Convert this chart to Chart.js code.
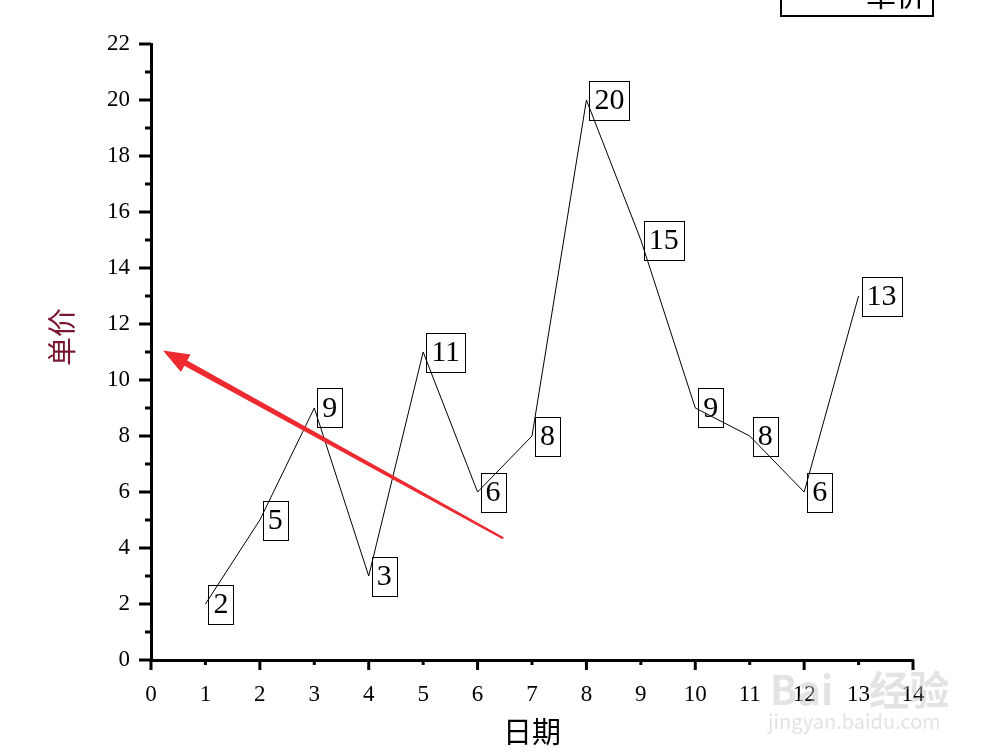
<!DOCTYPE html>
<html>
<head>
<meta charset="utf-8">
<script src="https://cdn.jsdelivr.net/npm/chart.js@4"></script>
<style>
  html, body { margin: 0; padding: 0; background: #fff; }
  canvas { display: block; }
</style>
</head>
<body>
<canvas id="priceChart" width="1000" height="756"></canvas>
<script>
// data
const days = [1, 2, 3, 4, 5, 6, 7, 8, 9, 10, 11, 12, 13];
const prices = [2, 5, 9, 3, 11, 6, 8, 20, 15, 9, 8, 6, 13];
const xTickValues = [0, 1, 2, 3, 4, 5, 6, 7, 8, 9, 10, 11, 12, 13, 14];
const yTickValues = [0, 2, 4, 6, 8, 10, 12, 14, 16, 18, 20, 22];
const seriesName = '单价';
const xTitle = '日期';
const yTitle = '单价';
// red arrow annotation, in data units (tail -> head)
const arrowTail = [6.47, 4.35];
const arrowHead = [0.22, 11.05];

const serif = '"Liberation Serif", "DejaVu Serif", serif';
const cjk = '"Noto Sans CJK SC", "Noto Sans", sans-serif';

// Origin style ticks: long on even values, short on odd ones
const tickMarks = {
    id: 'tickMarks',
    afterDraw(chart) {
        const { ctx, scales: { x, y }, chartArea } = chart;
        ctx.save();
        ctx.strokeStyle = '#000';
        ctx.lineWidth = 3;
        for (let v = xTickValues[0]; v <= xTickValues[xTickValues.length - 1]; v++) {
            const px = x.getPixelForValue(v);
            const len = v % 2 === 0 ? 10 : 5;
            ctx.beginPath();
            ctx.moveTo(px, chartArea.bottom);
            ctx.lineTo(px, chartArea.bottom + len);
            ctx.stroke();
        }
        for (let v = yTickValues[0]; v <= yTickValues[yTickValues.length - 1]; v++) {
            const py = y.getPixelForValue(v);
            const len = v % 2 === 0 ? 12 : 6;
            ctx.beginPath();
            ctx.moveTo(chartArea.left, py);
            ctx.lineTo(chartArea.left - len, py);
            ctx.stroke();
        }
        ctx.restore();
    }
};

// boxed value labels next to every point (boxes are see-through)
const boxLabels = {
    id: 'boxLabels',
    afterDatasetsDraw(chart) {
        const { ctx } = chart;
        const meta = chart.getDatasetMeta(0);
        ctx.save();
        ctx.font = '30px ' + serif;
        ctx.textBaseline = 'middle';
        ctx.textAlign = 'left';
        meta.data.forEach((pt, i) => {
            const txt = String(prices[i]);
            const w = ctx.measureText(txt).width + 10;
            const h = 39;
            const bx = pt.x + 3;
            const by = pt.y - h / 2;
            ctx.strokeStyle = '#000';
            ctx.lineWidth = 1;
            ctx.strokeRect(Math.round(bx) + 0.5, Math.round(by) + 0.5, Math.round(w), h);
            ctx.fillStyle = '#000';
            ctx.fillText(txt, bx + 5, pt.y + 1);
        });
        ctx.restore();
    }
};

// axis titles, arrow, cut-off legend, watermark
const extras = {
    id: 'extras',
    afterDraw(chart) {
        const { ctx, scales: { x, y }, chartArea } = chart;
        ctx.save();

        // x title
        ctx.fillStyle = '#000';
        ctx.font = '29px ' + cjk;
        ctx.textAlign = 'center';
        ctx.textBaseline = 'middle';
        ctx.fillText(xTitle, (chartArea.left + chartArea.right) / 2, 732);

        // y title
        ctx.save();
        ctx.translate(62, 337);
        ctx.rotate(-Math.PI / 2);
        ctx.fillStyle = '#7a1630';
        ctx.fillText(yTitle, 0, 0);
        ctx.restore();

        // arrow, a bit thicker towards the head
        const tx = x.getPixelForValue(arrowTail[0]), ty = y.getPixelForValue(arrowTail[1]);
        const hx = x.getPixelForValue(arrowHead[0]), hy = y.getPixelForValue(arrowHead[1]);
        const ang = Math.atan2(hy - ty, hx - tx);
        const headLen = 26, headW = 10;
        const bx = hx - headLen * Math.cos(ang), by = hy - headLen * Math.sin(ang);
        const sn = Math.sin(ang), cs = Math.cos(ang);
        ctx.fillStyle = '#ec2a2f';
        ctx.beginPath();
        ctx.moveTo(tx + 1.2 * sn, ty - 1.2 * cs);
        ctx.lineTo(bx + 3 * sn, by - 3 * cs);
        ctx.lineTo(bx + headW * sn, by - headW * cs);
        ctx.lineTo(hx, hy);
        ctx.lineTo(bx - headW * sn, by + headW * cs);
        ctx.lineTo(bx - 3 * sn, by + 3 * cs);
        ctx.lineTo(tx - 1.2 * sn, ty + 1.2 * cs);
        ctx.closePath();
        ctx.fill();

        // legend box (cut off at the top)
        ctx.strokeStyle = '#000';
        ctx.lineWidth = 2;
        ctx.strokeRect(781, -10, 152, 26);
        ctx.fillStyle = '#000';
        ctx.font = '30px ' + cjk;
        ctx.textAlign = 'left';
        ctx.fillText(seriesName, 866, -5);

        // watermark
        ctx.fillStyle = 'rgba(200,200,200,0.5)';
        ctx.font = 'bold 40px ' + cjk;
        ctx.fillText('Bai    经验', 770, 690);
        ctx.font = '20px ' + cjk;
        ctx.fillText('jingyan.baidu.com', 768, 721);

        ctx.restore();
    }
};

new Chart(document.getElementById('priceChart'), {
    type: 'line',
    data: {
        datasets: [{
            label: seriesName,
            data: days.map((d, i) => ({ x: d, y: prices[i] })),
            borderColor: '#000',
            borderWidth: 1,
            pointRadius: 0,
            tension: 0,
            fill: false
        }]
    },
    options: {
        responsive: false,
        devicePixelRatio: 1,
        animation: false,
        layout: { padding: { top: 44, right: 87, left: 0, bottom: 0 } },
        plugins: {
            legend: { display: false },
            tooltip: { enabled: false }
        },
        scales: {
            x: {
                type: 'linear',
                min: 0,
                max: 14,
                afterBuildTicks: s => { s.ticks = xTickValues.map(v => ({ value: v })); },
                afterFit: s => { s.height = 96; },
                grid: { display: false, drawTicks: false },
                border: { color: '#000', width: 3 },
                ticks: { color: '#000', font: { family: serif, size: 23 }, padding: 21, maxRotation: 0, autoSkip: false }
            },
            y: {
                min: 0,
                max: 22,
                afterBuildTicks: s => { s.ticks = yTickValues.map(v => ({ value: v })); },
                afterFit: s => { s.width = 151; },
                grid: { display: false, drawTicks: false },
                border: { color: '#000', width: 3 },
                ticks: { color: '#000', font: { family: serif, size: 23 }, padding: 21, autoSkip: false }
            }
        }
    },
    plugins: [tickMarks, boxLabels, extras]
});
</script>
</body>
</html>
